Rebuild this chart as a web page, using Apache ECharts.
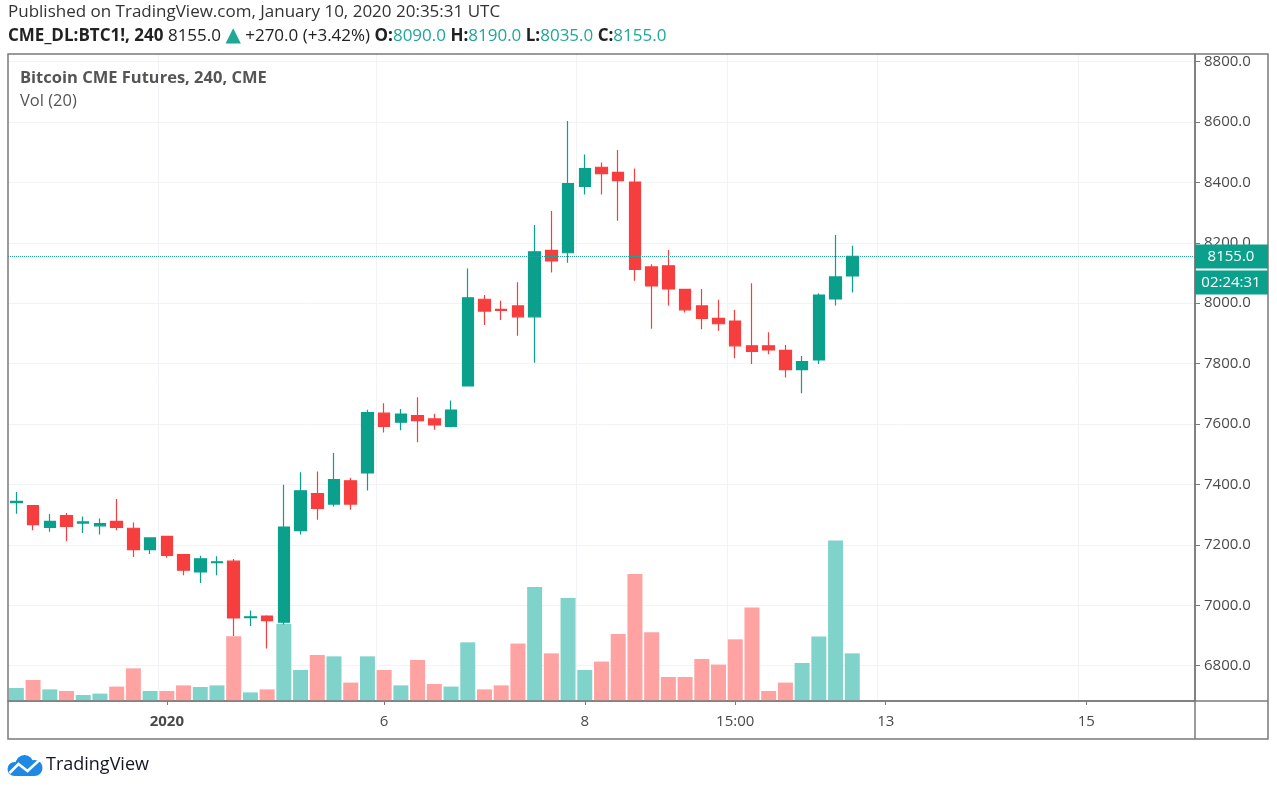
<!DOCTYPE html>
<html lang="en">
<head>
<meta charset="UTF-8">
<title>Bitcoin CME Futures, 240, CME</title>
<style>
  html, body { margin: 0; padding: 0; background: #fff; }
  #main { width: 1277px; height: 790px; }
</style>
</head>
<body>
<div id="main"></div>
<script src="https://cdn.jsdelivr.net/npm/echarts@6/dist/echarts.min.js"></script>
<script>
// 4h candles
var opens  = [7340,7330,7258,7297,7272,7263,7278,7255,7184,7228,7168,7110,7141,7146,6959,6964,6944,7247,7370,7335,7412,7438,7636,7606,7628,7617,7592,7726,8013,7980,7991,7955,8175,8167,8387,8450,8433,8401,8120,8124,8046,7991,7950,7941,7859,7859,7844,7780,7812,8014,8090];
var closes = [7344,7267,7278,7261,7276,7270,7258,7184,7223,7165,7116,7154,7144,6958,6962,6949,7259,7379,7321,7416,7335,7638,7592,7633,7611,7597,7646,8018,7974,7976,7955,8170,8140,8396,8446,8429,8406,8112,8057,8047,7978,7950,7932,7859,7840,7845,7780,7807,8027,8087,8155];
var lows   = [7303,7248,7243,7212,7239,7234,7248,7160,7170,7157,7099,7074,7099,6898,6931,6857,6936,7234,7283,7327,7316,7380,7572,7579,7540,7581,7589,7726,7928,7944,7892,7803,8102,8134,8360,8360,8273,8074,7915,7992,7969,7914,7909,7818,7799,7831,7754,7702,7799,7992,8035];
var highs  = [7375,7332,7302,7305,7294,7287,7352,7274,7225,7230,7170,7164,7162,7153,6983,6967,7399,7440,7443,7504,7421,7647,7669,7650,7689,7634,7678,8115,8027,8008,8069,8259,8305,8603,8492,8466,8507,8446,8129,8176,8048,8047,8011,7978,8066,7904,7862,7825,8033,8226,8190];
var volumes = [65,105,58,50,30,37,72,163,50,50,78,70,78,323,43,58,385,155,230,223,92,223,155,78,205,85,72,293,58,78,287,570,238,515,155,197,335,635,343,120,120,210,182,308,467,50,92,190,322,802,238];

// price axis ticks and time axis labels (slot index -> text)
var yTicks = [6800, 7000, 7200, 7400, 7600, 7800, 8000, 8200, 8400, 8600, 8800];
var xTickSlots  = [9, 22, 34, 43, 52, 64];
var xTickLabels = ['2020', '6', '8', '15:00', '13', '15'];
var slotCount = 71;   // candles + empty space on the right

var upColor = '#0aa08c';
var downColor = '#f73e3e';
var upVol = '#80d3ca';
var downVol = '#ffa2a2';
var textColor = '#4a4a4a';
var frameColor = '#7a7a7a';
var gridColor = '#f1f3f6';
var font = '"Open Sans", sans-serif';

var slots = [];
for (var i = 0; i < slotCount; i++) slots.push(String(i));

var candles = [];
var volData = [];
for (var i = 0; i < opens.length; i++) {
    candles.push([opens[i], closes[i], lows[i], highs[i]]);
    volData.push({
        value: volumes[i],
        itemStyle: { color: closes[i] >= opens[i] ? upVol : downVol }
    });
}
var lastClose = closes[closes.length - 1];

function isTickSlot(idx) {
    return xTickSlots.indexOf(idx) >= 0;
}

var myChart = echarts.init(document.getElementById('main'));

var option = {
    animation: false,
    backgroundColor: '#fff',
    textStyle: { fontFamily: font },
    grid: { left: 8, right: 82, top: 54, bottom: 89 },
    xAxis: {
        type: 'category',
        data: slots,
        boundaryGap: true,
        axisLine: { show: true, lineStyle: { color: frameColor, width: 1.5 } },
        axisTick: {
            show: true, alignWithLabel: true, length: 4,
            interval: function (idx) { return isTickSlot(idx); },
            lineStyle: { color: frameColor }
        },
        axisLabel: {
            interval: function (idx) { return isTickSlot(idx); },
            formatter: function (v, idx) {
                var k = xTickSlots.indexOf(idx);
                if (k < 0) return '';
                return k === 0 ? '{y|' + xTickLabels[k] + '}' : xTickLabels[k];
            },
            rich: { y: { fontWeight: 'bold', color: textColor, fontSize: 15, fontFamily: font } },
            color: textColor, fontSize: 15, fontFamily: font, margin: 13
        },
        splitLine: {
            show: true,
            interval: function (idx) { return isTickSlot(idx); },
            lineStyle: { color: gridColor, width: 1 }
        }
    },
    yAxis: [
        {
            type: 'value',
            position: 'right',
            min: 6683,
            max: 8825,
            axisLine: { show: true, lineStyle: { color: frameColor, width: 1.5 } },
            axisTick: { show: true, length: 5, customValues: yTicks, lineStyle: { color: frameColor } },
            axisLabel: {
                customValues: yTicks,
                formatter: function (v) { return v.toFixed(1); },
                color: textColor, fontSize: 15, fontFamily: font, margin: 9
            },
            splitLine: { show: true, lineStyle: { color: gridColor, width: 1 } }
        },
        {
            type: 'value',
            min: 0,
            max: 3232,
            show: false,
            splitLine: { show: false }
        }
    ],
    series: [
        {
            name: 'Vol',
            type: 'bar',
            yAxisIndex: 1,
            barWidth: 15,
            data: volData,
            z: 1
        },
        {
            name: 'BTC1!',
            type: 'candlestick',
            yAxisIndex: 0,
            barWidth: 12,
            data: candles,
            z: 3,
            itemStyle: {
                color: upColor, color0: downColor,
                borderColor: upColor, borderColor0: downColor,
                borderWidth: 1.2
            },
            markLine: {
                silent: true,
                symbol: 'none',
                label: { show: false },
                lineStyle: { type: 'dotted', color: '#26a69a', width: 1 },
                data: [{ yAxis: lastClose }]
            }
        }
    ],
    graphic: [
        {
            type: 'text', left: 8, top: 4,
            style: {
                text: 'Published on TradingView.com, January 10, 2020 20:35:31 UTC',
                fill: '#333', fontSize: 17, fontFamily: font
            }
        },
        {
            type: 'text', left: 8, top: 26,
            style: {
                text: '{b|CME_DL:BTC1!, 240} {n|' + lastClose.toFixed(1) + '} {t|▲} {n|+270.0 (+3.42%)} ' +
                      '{b|O:}{g|8090.0} {b|H:}{g|8190.0} {b|L:}{g|8035.0} {b|C:}{g|8155.0}',
                fontSize: 17, fontFamily: font,
                rich: {
                    b: { fontWeight: 'bold', fill: '#222', fontSize: 17, fontFamily: font },
                    n: { fill: '#222', fontSize: 17, fontFamily: font },
                    t: { fill: '#1fa896', fontSize: 20, fontFamily: '"DejaVu Sans", sans-serif' },
                    g: { fill: '#1fa896', fontSize: 17, fontFamily: font }
                }
            }
        },
        // frame around the chart and the price scale
        {
            type: 'rect', z: 9, silent: true,
            shape: { x: 1196, y: 40, width: 72, height: 14 },
            style: { fill: '#fff' }
        },
        {
            type: 'rect', z: 10, silent: true,
            shape: { x: 8, y: 54, width: 1260, height: 685 },
            style: { fill: 'none', stroke: frameColor, lineWidth: 1.5 }
        },
        {
            type: 'line', z: 10, silent: true,
            shape: { x1: 1195, y1: 54, x2: 1195, y2: 739 },
            style: { stroke: frameColor, lineWidth: 1.5 }
        },
        {
            type: 'line', z: 10, silent: true,
            shape: { x1: 8, y1: 701, x2: 1268, y2: 701 },
            style: { stroke: frameColor, lineWidth: 1.5 }
        },
        {
            type: 'text', left: 20, top: 70,
            style: { text: 'Bitcoin CME Futures, 240, CME', fill: '#555', fontSize: 16.5, fontWeight: 'bold', fontFamily: font }
        },
        {
            type: 'text', left: 20, top: 93,
            style: { text: 'Vol (20)', fill: '#555', fontSize: 16.5, fontFamily: font }
        },
        // TradingView logo
        {
            type: 'group', left: 7, top: 755,
            children: [
                { type: 'circle', shape: { cx: 18, cy: 10, r: 9 }, style: { fill: '#1e88e5' } },
                { type: 'circle', shape: { cx: 8, cy: 15, r: 7 }, style: { fill: '#1e88e5' } },
                { type: 'circle', shape: { cx: 28, cy: 14, r: 8 }, style: { fill: '#1e88e5' } },
                { type: 'rect', shape: { x: 8, y: 12, width: 20, height: 10 }, style: { fill: '#1e88e5' } },
                { type: 'polyline', shape: { points: [[3, 19], [12, 10], [21, 17], [33, 6]] },
                  style: { stroke: '#fff', lineWidth: 2.5, fill: 'none' } }
            ]
        },
        {
            type: 'text', left: 46, top: 756,
            style: { text: 'TradingView', fill: '#131722', fontSize: 18, fontFamily: font }
        }
    ]
};

myChart.setOption(option);

// last price tag and countdown on the price scale
var py = myChart.convertToPixel({ yAxisIndex: 0 }, lastClose);
myChart.setOption({
    graphic: option.graphic.concat([
        {
            type: 'rect', z: 20, shape: { x: 1195, y: py - 12, width: 73, height: 24 },
            style: { fill: upColor }
        },
        {
            type: 'text', z: 21, x: 1231, y: py,
            style: { text: lastClose.toFixed(1), fill: '#fff', fontSize: 15, fontFamily: font, align: 'center', verticalAlign: 'middle' }
        },
        {
            type: 'rect', z: 20, shape: { x: 1195, y: py + 14, width: 73, height: 24 },
            style: { fill: upColor }
        },
        {
            type: 'text', z: 21, x: 1231, y: py + 26,
            style: { text: '02:24:31', fill: '#fff', fontSize: 15, fontFamily: font, align: 'center', verticalAlign: 'middle' }
        }
    ])
});
</script>
</body>
</html>
